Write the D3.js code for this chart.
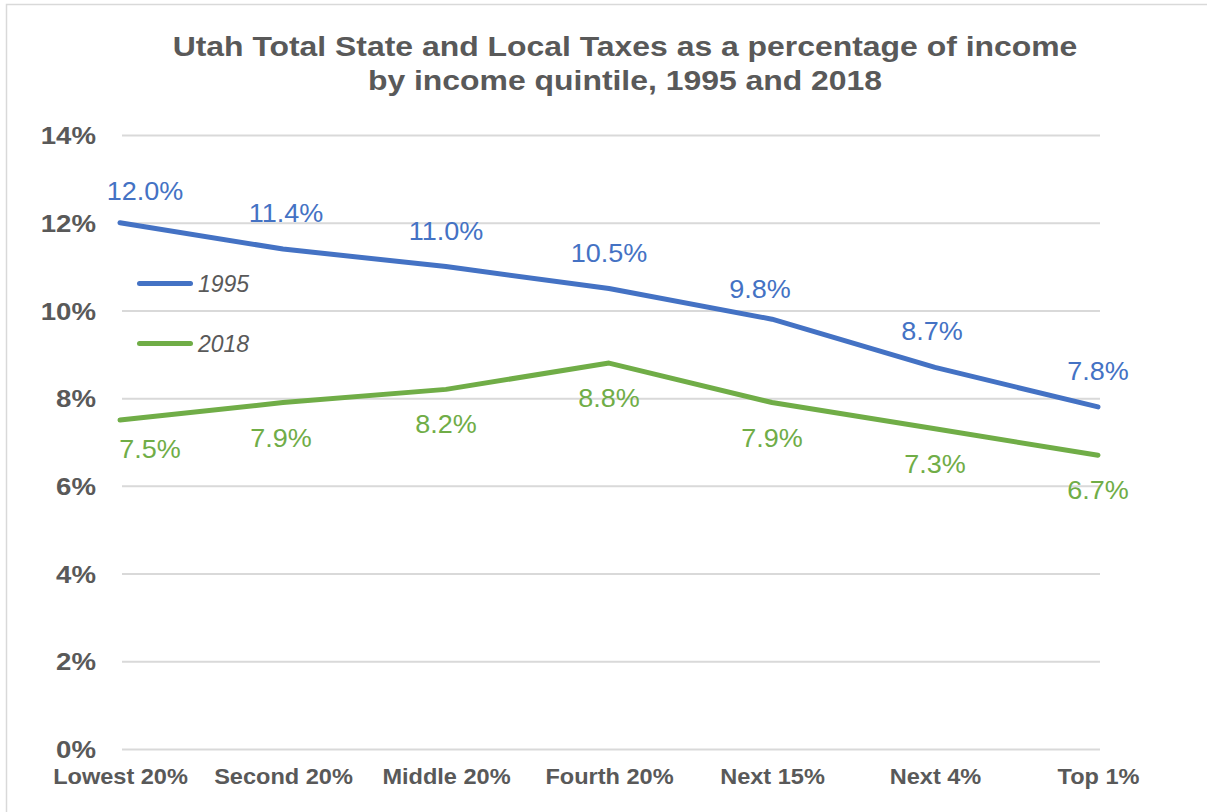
<!DOCTYPE html>
<html><head><meta charset="utf-8">
<script src="https://cdn.jsdelivr.net/npm/d3@7"></script>
<style>body{margin:0;background:#fff}svg{display:block}</style>
</head><body>
<svg id="c" width="1207" height="812"></svg>
<script>
const categories = ["Lowest 20%","Second 20%","Middle 20%","Fourth 20%","Next 15%","Next 4%","Top 1%"];
const values1995 = [12.0, 11.4, 11.0, 10.5, 9.8, 8.7, 7.8];
const values2018 = [7.5, 7.9, 8.2, 8.8, 7.9, 7.3, 6.7];
const yTicks = [0, 2, 4, 6, 8, 10, 12, 14];
const seriesNames = ["1995", "2018"];
const titleLines = ["Utah Total State and Local Taxes as a percentage of income", "by income quintile, 1995 and 2018"];

const svg = d3.select("#c");
const W = 1207, H = 812;
const pLeft = 120, pRight = 1098, pTop = 135, pBottom = 749;
const blue = "#4472C4", green = "#70AD47", grey = "#595959";
const font = "Arial, 'Liberation Sans', sans-serif";

function stretch(sel, k) {
  sel.each(function() {
    const L = this.getComputedTextLength();
    d3.select(this).attr("textLength", L * k).attr("lengthAdjust", "spacingAndGlyphs");
  });
}

svg.append("rect").attr("x", 6.5).attr("y", 4.5).attr("width", W + 10).attr("height", H + 10)
  .attr("fill", "#fff").attr("stroke", "#d9d9d9").attr("stroke-width", 1.5);

const x = d3.scalePoint().domain(categories).range([pLeft, pRight]);
const y = d3.scaleLinear().domain([0, 14]).range([pBottom, pTop]);

// title
const tt = svg.append("g").selectAll("text").data(titleLines).join("text")
  .attr("x", 625).attr("y", (d, i) => 56 + i * 33.5)
  .attr("text-anchor", "middle").attr("font-family", font).attr("font-weight", "bold")
  .attr("font-size", 27.5).attr("fill", grey).text(d => d);
stretch(tt, 1.16);

// gridlines + y axis
const yAxis = d3.axisLeft(y).tickValues(yTicks).tickFormat(d => d + "%").tickSize(-(pRight - pLeft + 2)).tickPadding(24);
const gy = svg.append("g").attr("transform", `translate(${pLeft},0)`).call(yAxis);
gy.select(".domain").remove();
gy.selectAll(".tick line").attr("stroke", "#d9d9d9").attr("stroke-width", 2).attr("x1", 2);
gy.selectAll(".tick text").attr("font-family", font).attr("font-weight", "bold")
  .attr("font-size", 24).attr("fill", grey).attr("dy", "0.36em");
stretch(gy.selectAll(".tick text"), 1.15);

// x axis
const xAxis = d3.axisBottom(x).tickSize(0).tickPadding(27);
const gx = svg.append("g").attr("transform", `translate(0,${pBottom})`).call(xAxis);
gx.select(".domain").remove();
gx.selectAll(".tick text").attr("font-family", font).attr("font-weight", "bold")
  .attr("font-size", 22).attr("fill", grey).attr("dy", "0.35em");
stretch(gx.selectAll(".tick text"), 1.07);

const line = d3.line().x((d, i) => x(categories[i])).y(d => y(d));
const series = [
  {name: seriesNames[0], vals: values1995, color: blue, off: -27, dx: [25, 3, 0, 0, -12, -3, 0], dy: [4, 0, 0, 0, 6, 0, 0]},
  {name: seriesNames[1], vals: values2018, color: green, off: 44, dx: [30, -2, 0, 0, 0, 0, 0], dy: [-6, 0, 0, 0, 0, 0, 0]}
];
series.forEach(s => {
  svg.append("path").datum(s.vals).attr("d", line).attr("fill", "none")
    .attr("stroke", s.color).attr("stroke-width", 5).attr("stroke-linejoin", "round").attr("stroke-linecap", "round");
  const lab = svg.append("g").selectAll("text").data(s.vals).join("text")
    .attr("x", (d, i) => x(categories[i]) + s.dx[i])
    .attr("y", (d, i) => y(d) + s.off + s.dy[i])
    .attr("text-anchor", "middle").attr("font-family", font).attr("font-size", 25)
    .attr("fill", s.color).text(d => d.toFixed(1) + "%");
  stretch(lab, 1.08);
});

// legend
const lg = svg.append("g");
series.forEach((s, i) => {
  const ly = 283.5 + i * 60;
  lg.append("line").attr("x1", 139.5).attr("x2", 190.5).attr("y1", ly).attr("y2", ly)
    .attr("stroke", s.color).attr("stroke-width", 5).attr("stroke-linecap", "round");
  lg.append("text").attr("x", 198).attr("y", ly + 8).attr("font-family", font).attr("font-style", "italic")
    .attr("font-size", 23).attr("fill", grey).text(s.name);
});
</script>
</body></html>
